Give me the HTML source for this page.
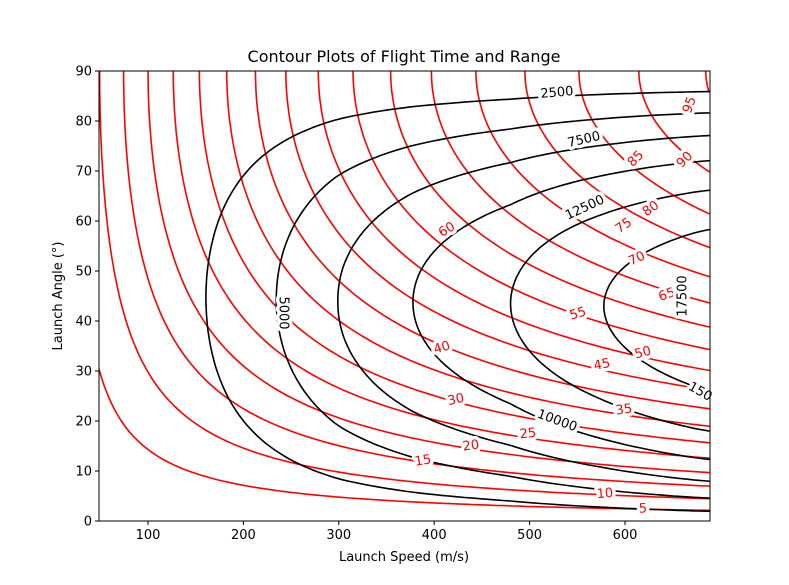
<!DOCTYPE html>
<html><head><meta charset="utf-8"><style>
html,body{margin:0;padding:0;background:#fff;}
svg{display:block;font-family:"DejaVu Sans","Liberation Sans",sans-serif;}
</style></head><body>
<svg id="s" width="789" height="585" viewBox="0 0 789 585" xmlns="http://www.w3.org/2000/svg">
<defs><clipPath id="c"><rect x="99" y="71" width="611" height="450"/></clipPath></defs>
<rect width="789" height="585" fill="#fff"/>
<g id="lines" clip-path="url(#c)"></g>
<g id="labels" font-size="13" text-anchor="middle" dominant-baseline="central" style="paint-order:stroke" stroke="#fff" stroke-width="7" stroke-linejoin="round"></g>
<rect x="99" y="71" width="611" height="450" fill="none" stroke="#000" stroke-width="1"/>
<g id="ticks" font-size="13" fill="#000"></g>
<text x="404" y="62" font-size="16" text-anchor="middle">Contour Plots of Flight Time and Range</text>
<text x="404" y="561" font-size="13" text-anchor="middle">Launch Speed (m/s)</text>
<text transform="translate(62,296) rotate(-90)" font-size="13" text-anchor="middle">Launch Angle (°)</text>
</svg>
<script>
(function(){
function X(v){return 148+(v-100)*0.954;}
function IX(x){return (x-148)/0.954+100;}
function Y(a){return 521-a*5;}
var tk=document.getElementById('ticks'),h='';
for(var v=100;v<=600;v+=100){var x=X(v);h+='<line x1="'+x+'" y1="521" x2="'+x+'" y2="525" stroke="#000"/><text x="'+x+'" y="539" text-anchor="middle">'+v+'</text>';}
for(var a=0;a<=90;a+=10){var y=Y(a);h+='<line x1="95" y1="'+y+'" x2="99" y2="'+y+'" stroke="#000"/><text x="92" y="'+(y+4.5)+'" text-anchor="end">'+a+'</text>';}
tk.innerHTML=h;
var g=9.81;
var vs=[],as=[];for(var v=48;v<=694;v+=8)vs.push(v);for(var a=0;a<=90;a+=1)as.push(a);
function sim(kf){
 var T=[],R=[];
 for(var i=0;i<vs.length;i++){T.push([]);R.push([]);
 for(var j=0;j<as.length;j++){
  var th=as[j]*Math.PI/180;var vx=vs[i]*Math.cos(th),vy=vs[i]*Math.sin(th),x=0,y=0,t=0,dt=0.05;
  if(as[j]==0){T[i].push(0);R[i].push(0);continue;}
  while(true){
   var s=Math.sqrt(vx*vx+vy*vy);var k=kf(s);var ax=-k*s*vx,ay=-g-k*s*vy;
   var mvx=vx+ax*dt/2,mvy=vy+ay*dt/2;var ms=Math.sqrt(mvx*mvx+mvy*mvy);var k2=kf(ms);
   var bx=-k2*ms*mvx,by=-g-k2*ms*mvy;
   var nx=x+mvx*dt,ny=y+mvy*dt;vx+=bx*dt;vy+=by*dt;
   if(ny<0){var f=y/(y-ny);t+=f*dt;x=x+(nx-x)*f;break;}
   x=nx;y=ny;t+=dt;
  }
  T[i].push(t);R[i].push(x);
 }}
 return [T,R];}
var T=sim(function(s){return 8e-5;})[0];
var R0=sim(function(s){return 2.5e-5+1.2e-5/(1+Math.exp(-(s-340)/30))+3.5e-12*Math.pow(s,2.6);})[1];
var mp=[[0,0],[205,205],[338,338],[412,400],[510,474],[602,567],[695,665],[760,720]];
function m(x){for(var q=0;q<mp.length-1;q++){if(x<=mp[q+1][0]){var f=(x-mp[q][0])/(mp[q+1][0]-mp[q][0]);return mp[q][1]+f*(mp[q+1][1]-mp[q][1]);}}return x;}
var R=[];
for(var i=0;i<vs.length;i++){R.push([]);var vv=IX(m(X(vs[i])));var fi=(vv-48)/8;if(fi<0)fi=0;var i0=Math.min(Math.floor(fi),vs.length-2);var fr=Math.min(fi-i0,1);
 for(var j=0;j<as.length;j++)R[i].push(R0[i0][j]*(1-fr)+R0[i0+1][j]*fr);}
function contour(F,lev){
 var d='';
 for(var i=0;i<vs.length-1;i++)for(var j=0;j<as.length-1;j++){
  var c=[[vs[i],as[j],F[i][j]],[vs[i+1],as[j],F[i+1][j]],[vs[i+1],as[j+1],F[i+1][j+1]],[vs[i],as[j+1],F[i][j+1]]];
  var p=[];
  for(var e=0;e<4;e++){var A=c[e],B=c[(e+1)%4];
   if((A[2]-lev)*(B[2]-lev)<0){var f=(lev-A[2])/(B[2]-A[2]);p.push([X(A[0]+(B[0]-A[0])*f),Y(A[1]+(B[1]-A[1])*f)]);}}
  for(var q=0;q+1<p.length;q+=2)d+='M'+p[q][0].toFixed(1)+' '+p[q][1].toFixed(1)+'L'+p[q+1][0].toFixed(1)+' '+p[q+1][1].toFixed(1);
 }
 return d;}
var L=document.getElementById('lines'),out='';
for(var l=5;l<=95;l+=5)out+='<path d="'+contour(T,l)+'" stroke="#ff0000" stroke-width="1.6" fill="none" stroke-linecap="round"/>';
for(var l=2500;l<=17500;l+=2500)out+='<path d="'+contour(R,l)+'" stroke="#000" stroke-width="1.6" fill="none" stroke-linecap="round"/>';
L.innerHTML=out;
var lab=[["5",643,509,-3,1],["10",605,494,-5,1],["15",423,461,-10,1],["20",471,446,-8,1],["25",528,434,-6,1],["30",456,400,-12,1],["35",624,410,-8,1],["40",442,348,-17,1],["45",602,365,-12,1],["50",643,353,-15,1],["55",578,314,-17,1],["60",447,230,-30,1],["65",667,295,-20,1],["70",637,259,-25,1],["75",624,226,-35,1],["80",651,209,-35,1],["85",636,159,-45,1],["90",685,160,-45,1],["95",690,105,-70,1],
["2500",557,93,-5,0],["7500",584,140,-13,0],["12500",585,208,-25,0],["5000",283,313,90,0],["10000",557,421,20,0],["17500",683,296,-90,0],["150",700,392,30,0]];
var lh='';lab.forEach(function(b){lh+='<text transform="translate('+b[1]+','+b[2]+') rotate('+b[3]+')" fill="'+(b[4]?'#ff0000':'#000')+'">'+b[0]+'</text>';});
document.getElementById('labels').innerHTML=lh;
})();
</script>
</body></html>
